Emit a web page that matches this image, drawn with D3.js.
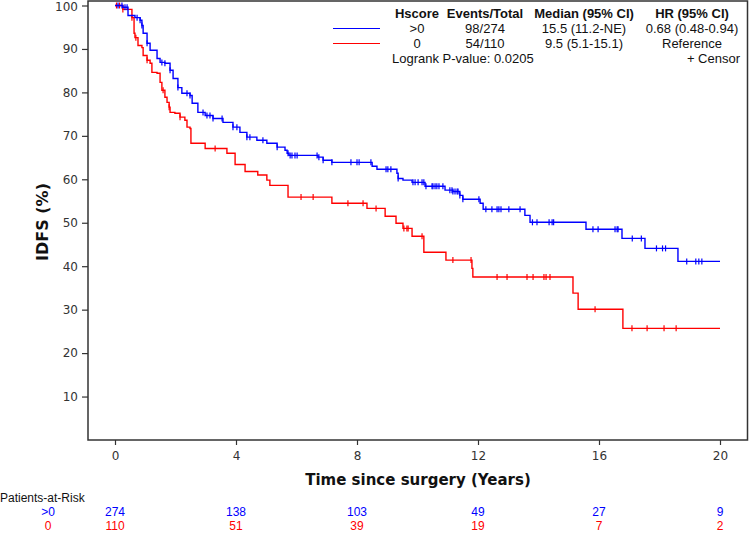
<!DOCTYPE html>
<html>
<head>
<meta charset="utf-8">
<script src="https://cdn.jsdelivr.net/npm/d3@7"></script>
<style>
  body { margin: 0; background: #fff; }
  svg { display: block; }
  .axis text { font-family: "DejaVu Sans", sans-serif; font-size: 12px; fill: #333; }
  .axis line { stroke: #333; stroke-width: 1.2px; }
  .leg { font-family: "Liberation Sans", Arial, sans-serif; font-size: 13px; fill: #111; }
  .risk { font-family: "Liberation Sans", Arial, sans-serif; font-size: 12px; }
</style>
</head>
<body>
<svg width="749" height="535"></svg>
<script>
// Kaplan-Meier steps: [years, IDFS %]
var blueSteps = [[0,100],[0.26,99.6],[0.43,97.7],[0.66,97.2],[0.83,96.6],[0.89,95.4],[0.93,93.6],[1.06,91.3],[1.16,89.7],[1.39,87.8],[1.49,86.9],[1.65,86.7],[1.82,85.1],[1.92,83.2],[2.08,81.1],[2.21,79.8],[2.48,79.3],[2.55,77.5],[2.74,75.4],[2.98,74.7],[3.24,74.0],[3.57,73.1],[3.90,72.0],[4.13,70.8],[4.36,69.7],[4.69,69.0],[5.02,68.3],[5.36,67.4],[5.62,66.7],[5.69,66.0],[5.75,65.5],[6.71,65.1],[6.88,64.4],[7.17,63.9],[8.50,63.0],[8.66,62.3],[9.32,61.4],[9.36,60.2],[9.52,59.8],[9.82,59.3],[10.25,58.4],[10.91,57.5],[11.17,57.2],[11.40,56.3],[11.50,55.4],[12.07,54.5],[12.17,53.1],[13.55,51.7],[13.72,50.1],[15.57,48.5],[16.76,46.4],[17.52,44.1],[18.61,41.1],[20.0,41.1]];
var redSteps = [[0,100],[0.26,99.1],[0.56,97.2],[0.63,93.6],[0.66,92.6],[0.76,90.8],[0.89,90.3],[0.93,88.5],[1.06,87.4],[1.16,86.7],[1.22,84.6],[1.39,84.4],[1.49,82.3],[1.55,80.5],[1.65,78.9],[1.72,77.7],[1.79,76.6],[1.82,75.4],[1.98,75.2],[2.15,74.3],[2.31,73.6],[2.38,72.0],[2.48,71.7],[2.51,68.3],[2.98,67.1],[3.70,66.0],[3.97,63.4],[4.30,61.8],[4.72,61.0],[5.02,59.8],[5.12,58.6],[5.72,55.9],[7.17,54.5],[8.33,53.3],[8.93,51.5],[9.29,49.9],[9.52,48.7],[9.82,46.9],[10.21,43.2],[10.94,41.4],[11.80,39.5],[11.83,37.5],[15.14,33.8],[15.31,30.1],[16.79,25.7],[20.0,25.7]];

// censored times
var blueCensor = [0.1,0.23,0.33,0.40,0.73,0.83,0.89,1.06,1.55,1.65,1.82,2.08,2.38,2.48,2.91,3.04,3.14,3.24,3.54,3.90,4.03,4.36,4.46,4.89,5.36,5.72,5.79,5.85,5.95,6.02,6.68,6.74,6.88,7.17,7.80,8.0,8.07,8.46,8.96,9.02,9.12,9.36,9.85,9.92,10.02,10.15,10.21,10.28,10.48,10.51,10.58,10.64,10.71,10.84,11.07,11.14,11.17,11.24,11.31,11.34,11.40,11.50,12.03,12.26,12.46,12.63,12.69,12.76,13.02,13.39,13.8,13.95,14.35,14.45,14.5,15.8,15.97,16.53,16.6,16.63,17.1,17.4,17.9,18.1,18.2,18.9,19.2,19.3,19.4];
var redCensor = [0.05,0.15,0.26,0.56,0.69,1.06,1.59,1.79,2.15,3.31,6.15,6.55,7.70,8.20,8.63,9.55,9.65,9.69,10.15,11.17,11.77,12.63,12.96,13.62,13.82,14.18,14.25,14.38,15.87,17.09,17.59,18.15,18.55];

var xTicks = [0, 4, 8, 12, 16, 20];
var yTicks = [10, 20, 30, 40, 50, 60, 70, 80, 90, 100];
var riskTimes = [0, 4, 8, 12, 16, 20];
var riskBlue = [274, 138, 103, 49, 27, 9];
var riskRed = [110, 51, 39, 19, 7, 2];

var legendRows = [
  {group: ">0", events: "98/274", median: "15.5 (11.2-NE)", hr: "0.68 (0.48-0.94)", color: "#0000ff"},
  {group: "0", events: "54/110", median: "9.5 (5.1-15.1)", hr: "Reference", color: "#ff0000"}
];

var svg = d3.select("svg");
var BLUE = "#0000ff", RED = "#ff0000";

var x = d3.scaleLinear().domain([0, 20]).range([115, 720]);
var y = d3.scaleLinear().domain([0, 100]).range([440, 5.5]);

// frame
svg.append("rect")
  .attr("x", 88).attr("y", 1)
  .attr("width", 659.5).attr("height", 439)
  .attr("fill", "none").attr("stroke", "#333").attr("stroke-width", 1.5);

var yAxis = svg.append("g")
  .attr("class", "axis")
  .attr("transform", "translate(88,0)")
  .call(d3.axisLeft(y).tickValues(yTicks).tickSize(6).tickPadding(4));
yAxis.select(".domain").remove();
yAxis.selectAll("text").filter(function(d) { return d === 100; }).attr("dy", "0.4em");

var xAxis = svg.append("g")
  .attr("class", "axis")
  .attr("transform", "translate(0,440)")
  .call(d3.axisBottom(x).tickValues(xTicks).tickSize(5).tickPadding(6));
xAxis.select(".domain").remove();

// axis titles
svg.append("text")
  .attr("transform", "translate(48,222) rotate(-90)")
  .attr("text-anchor", "middle")
  .style("font-family", "DejaVu Sans, sans-serif")
  .style("font-weight", "bold").style("font-size", "16px")
  .attr("fill", "#111")
  .text("IDFS (%)");

svg.append("text")
  .attr("x", 418).attr("y", 485)
  .attr("text-anchor", "middle")
  .style("font-family", "DejaVu Sans, sans-serif")
  .style("font-weight", "bold").style("font-size", "15px")
  .attr("fill", "#111")
  .text("Time since surgery (Years)");

// curves
var line = d3.line()
  .x(function(d) { return x(d[0]); })
  .y(function(d) { return y(d[1]); })
  .curve(d3.curveStepAfter);

function survAt(steps, t) {
  var s = steps[0][1];
  steps.forEach(function(d) { if (d[0] <= t) s = d[1]; });
  return s;
}

function drawCurve(steps, censor, color) {
  svg.append("path")
    .datum(steps)
    .attr("d", line)
    .attr("fill", "none")
    .attr("stroke", color)
    .attr("stroke-width", 1.4);

  svg.append("g").selectAll("line")
    .data(censor)
    .enter().append("line")
      .attr("x1", function(d) { return x(d); })
      .attr("x2", function(d) { return x(d); })
      .attr("y1", function(d) { return y(survAt(steps, d)) - 3; })
      .attr("y2", function(d) { return y(survAt(steps, d)) + 3; })
      .attr("stroke", color)
      .attr("stroke-width", 1.2);
}

drawCurve(redSteps, redCensor, RED);
drawCurve(blueSteps, blueCensor, BLUE);

// legend
var leg = svg.append("g");
var cols = [{key: "group", x: 417}, {key: "events", x: 485}, {key: "median", x: 584}, {key: "hr", x: 692}];
var heads = ["Hscore", "Events/Total", "Median (95% CI)", "HR (95% CI)"];
heads.forEach(function(h, i) {
  leg.append("text").attr("class", "leg")
    .attr("x", cols[i].x).attr("y", 18)
    .attr("text-anchor", "middle")
    .style("font-weight", "bold")
    .text(h);
});
legendRows.forEach(function(r, j) {
  var yy = 33 + j * 15;
  leg.append("line")
    .attr("x1", 333).attr("x2", 380)
    .attr("y1", yy - 4.5).attr("y2", yy - 4.5)
    .attr("stroke", r.color).attr("stroke-width", 1.2);
  cols.forEach(function(c) {
    leg.append("text").attr("class", "leg")
      .attr("x", c.x).attr("y", yy)
      .attr("text-anchor", "middle")
      .text(r[c.key]);
  });
});
leg.append("text").attr("class", "leg")
  .attr("x", 392).attr("y", 63)
  .text("Logrank P-value: 0.0205");
leg.append("text").attr("class", "leg")
  .attr("x", 740).attr("y", 63)
  .attr("text-anchor", "end")
  .text("+  Censor");

// patients at risk
var risk = svg.append("g");
risk.append("text").attr("class", "risk")
  .attr("x", 0).attr("y", 502)
  .style("fill", "#111")
  .text("Patients-at-Risk");
risk.append("text").attr("class", "risk")
  .attr("x", 48).attr("y", 516).attr("text-anchor", "middle")
  .style("fill", BLUE)
  .text(">0");
risk.append("text").attr("class", "risk")
  .attr("x", 48).attr("y", 530).attr("text-anchor", "middle")
  .style("fill", RED)
  .text("0");
risk.selectAll("text.rb")
  .data(riskBlue)
  .enter().append("text")
    .attr("class", "risk rb")
    .attr("x", function(d, i) { return x(riskTimes[i]); })
    .attr("y", 516)
    .attr("text-anchor", "middle")
    .style("fill", BLUE)
    .text(function(d) { return d; });
risk.selectAll("text.rr")
  .data(riskRed)
  .enter().append("text")
    .attr("class", "risk rr")
    .attr("x", function(d, i) { return x(riskTimes[i]); })
    .attr("y", 530)
    .attr("text-anchor", "middle")
    .style("fill", RED)
    .text(function(d) { return d; });
</script>
</body>
</html>
